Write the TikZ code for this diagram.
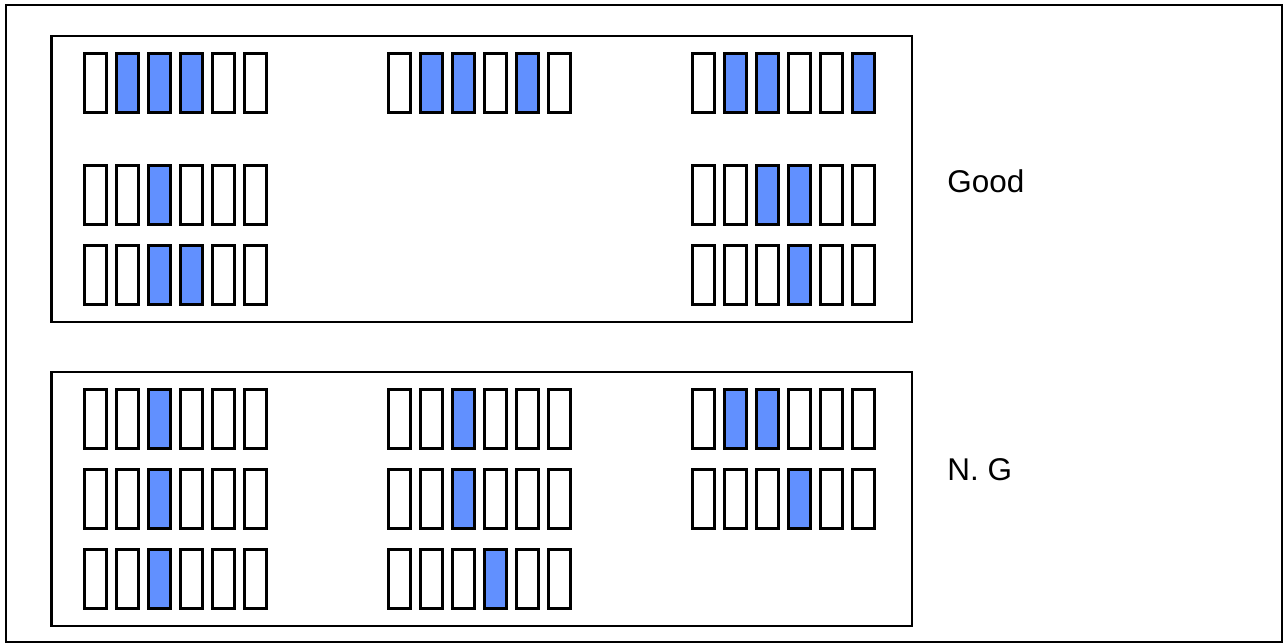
\documentclass[tikz,border=0pt]{standalone}
\usepackage{fontspec}
\setmainfont{Liberation Sans}
\usepackage{xcolor}
\usepackage{tikz}
\usetikzlibrary{positioning}
\definecolor{On}{HTML}{6190FF}
\colorlet{Off}{white}

\begin{document}
\begin{tikzpicture}[x=0.02cm,y=-0.02cm,
  bit/.style={draw=black,line width=1.7pt,minimum width=0.44cm,minimum height=1.18cm,inner sep=0pt},
  frame/.style={draw=black,line width=1.15pt},
  tag/.style={anchor=west,inner sep=0pt,font=\fontsize{17.9pt}{21pt}\selectfont}]
\useasboundingbox (0,0) rectangle (1288,643);
\draw[frame] (5.7,4.7) rectangle (1281.7,641.7);
\draw[frame] (51.5,35.7) rectangle (912.3,321.7);
\draw[frame] (51.5,372.3) rectangle (912.3,625.7);
\foreach \grp/\gx/\y/\bits in {
  good-r1a/83/83/{Off,On,On,On,Off,Off},
  good-r1b/387/83/{Off,On,On,Off,On,Off},
  good-r1c/691/83/{Off,On,On,Off,Off,On},
  good-r2a/83/195/{Off,Off,On,Off,Off,Off},
  good-r2c/691/195/{Off,Off,On,On,Off,Off},
  good-r3a/83/275/{Off,Off,On,On,Off,Off},
  good-r3c/691/275/{Off,Off,Off,On,Off,Off},
  ng-r1a/83/419/{Off,Off,On,Off,Off,Off},
  ng-r1b/387/419/{Off,Off,On,Off,Off,Off},
  ng-r1c/691/419/{Off,On,On,Off,Off,Off},
  ng-r2a/83/499/{Off,Off,On,Off,Off,Off},
  ng-r2b/387/499/{Off,Off,On,Off,Off,Off},
  ng-r2c/691/499/{Off,Off,Off,On,Off,Off},
  ng-r3a/83/579/{Off,Off,On,Off,Off,Off},
  ng-r3b/387/579/{Off,Off,Off,On,Off,Off}} {
  \foreach \s [count=\i] in \bits {
    \node[bit,fill=\s] (\grp-\i) at ({\gx+12.5+32*(\i-1)},\y) {};
  }
}
\node[tag] (good-label) at (947,181.5) {Good};
\node[tag] (ng-label) at (947,470) {N. G};
\end{tikzpicture}
\end{document}
